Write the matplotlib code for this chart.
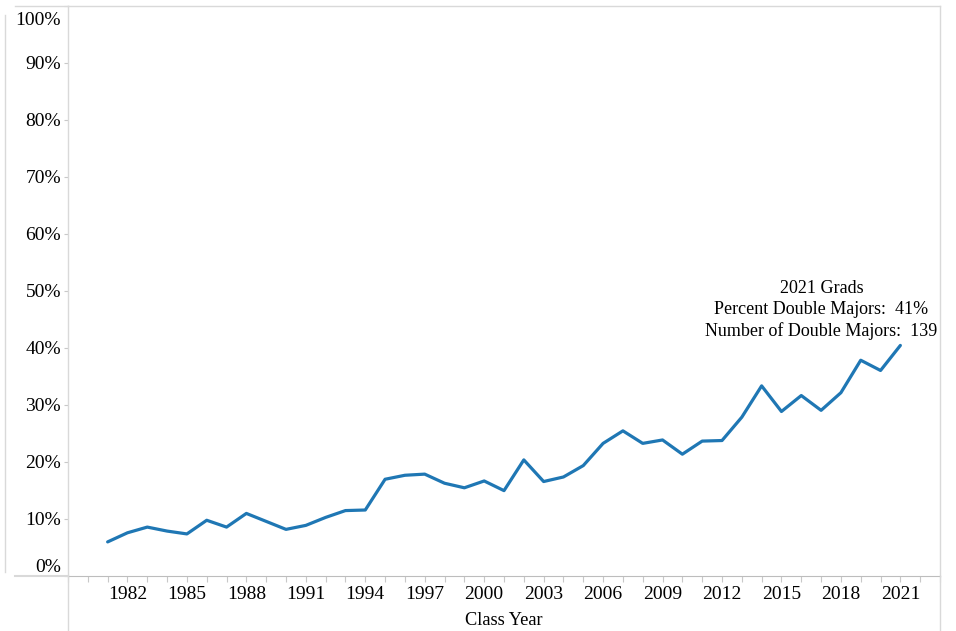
import matplotlib
matplotlib.use("Agg")
import matplotlib.pyplot as plt
import matplotlib.transforms as mtransforms
from matplotlib.lines import Line2D
from matplotlib.ticker import FixedLocator, MultipleLocator

years = list(range(1981, 2022))
pct_double = [
    5.9, 7.5, 8.5, 7.8, 7.3, 9.7, 8.5, 10.9, 9.5, 8.1,
    8.8, 10.2, 11.4, 11.5, 16.9, 17.6, 17.8, 16.2, 15.4, 16.6,
    14.9, 20.3, 16.5, 17.3, 19.3, 23.2, 25.4, 23.2, 23.8, 21.3,
    23.6, 23.7, 27.8, 33.3, 28.8, 31.6, 29.0, 32.1, 37.8, 36.0,
    40.4,
]
label_years = list(range(1982, 2022, 3))
y_ticks = list(range(0, 101, 10))
note_lines = ["2021 Grads", "Percent Double Majors:  41%", "Number of Double Majors:  139"]

plt.rcParams["font.family"] = ["Liberation Serif", "DejaVu Serif"]
border = "#d9d9d9"
tick_col = "#c8c8c8"

fig = plt.figure(figsize=(9.56, 6.31), dpi=100)
W, H = 956, 631
ax = fig.add_axes([68 / W, (H - 575.5) / H, (940 - 68) / W, (575.5 - 6) / H])

ax.plot(years, pct_double, color="#1f77b4", lw=2.3, solid_joinstyle="round", solid_capstyle="round")

ax.set_xlim(1979, 2023)
ax.set_ylim(0, 100)

ax.xaxis.set_major_locator(FixedLocator(label_years))
ax.xaxis.set_minor_locator(MultipleLocator(1))
ax.set_xticklabels([str(y) for y in label_years])
ax.yaxis.set_major_locator(FixedLocator(y_ticks))
ax.set_yticklabels([f"{v}%" for v in y_ticks])

ax.tick_params(axis="x", which="both", length=4.5, width=0.8, color=tick_col,
               labelsize=14, pad=3)
ax.tick_params(axis="y", length=3, width=0.8, color=tick_col, labelsize=14, pad=2)

# Tableau keeps the end labels inside the pane
ylabels = ax.get_yticklabels()
ylabels[0].set_verticalalignment("bottom")
ylabels[-1].set_verticalalignment("top")
ylabels[-1].set_transform(ylabels[-1].get_transform()
                          + mtransforms.ScaledTranslation(0, -6 / 100, fig.dpi_scale_trans))

for side in ["left", "right", "top"]:
    ax.spines[side].set_color(border)
    ax.spines[side].set_linewidth(1)
ax.spines["bottom"].set_color("#bdbdbd")
ax.spines["bottom"].set_linewidth(0.8)
ax.spines["bottom"].set_linestyle((0, (2, 1)))

ax.set_xlabel("Class Year", fontsize=13.2, labelpad=6.5)

ax.annotate("\n".join(note_lines), xy=(years[-1], pct_double[-1]),
            xytext=(-79, 5), textcoords="offset pixels",
            ha="center", va="bottom", multialignment="center",
            fontsize=13, linespacing=1.3)

# Tableau-style pane borders outside the plot area
fig.add_artist(Line2D([68 / W, 68 / W], [0, (H - 575.5) / H], color=border, lw=1))
fig.add_artist(Line2D([940 / W, 940 / W], [0, (H - 575.5) / H], color=border, lw=1))
fig.add_artist(Line2D([15 / W, 68 / W], [(H - 576) / H] * 2, color=border, lw=1.5))
fig.add_artist(Line2D([15 / W, 68 / W], [(H - 6) / H] * 2, color=border, lw=1))
fig.add_artist(Line2D([4.5 / W, 4.5 / W], [(H - 572) / H, (H - 15) / H], color=border, lw=1))

fig.savefig("out.png", dpi=100)
plt.close(fig)
